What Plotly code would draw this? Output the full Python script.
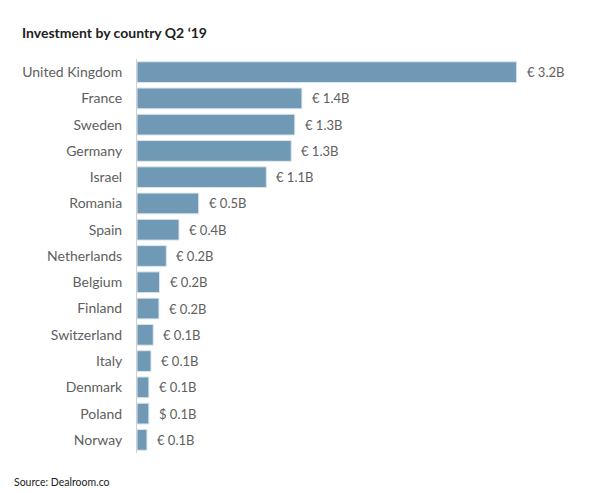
import plotly.graph_objects as go

countries = ["United Kingdom", "France", "Sweden", "Germany", "Israel", "Romania", "Spain",
             "Netherlands", "Belgium", "Finland", "Switzerland", "Italy", "Denmark", "Poland", "Norway"]
values = [3.2, 1.39, 1.33, 1.30, 1.09, 0.52, 0.354, 0.247, 0.19, 0.185, 0.137, 0.118, 0.10, 0.10, 0.084]
labels = ["€ 3.2B", "€ 1.4B", "€ 1.3B", "€ 1.3B", "€ 1.1B", "€ 0.5B", "€ 0.4B", "€ 0.2B",
          "€ 0.2B", "€ 0.2B", "€ 0.1B", "€ 0.1B", "€ 0.1B", "$ 0.1B", "€ 0.1B"]

FONT = "Lato"
TXT = "#606060"
fig = go.Figure()
fig.add_trace(go.Bar(
    x=values, y=countries, orientation="h",
    marker=dict(color="#7099b6", line=dict(color="#dce6ee", width=1)),
    hoverinfo="skip",
))
for c, v, t in zip(countries, values, labels):
    fig.add_annotation(x=v, y=c, text=t, showarrow=False, xanchor="left", xshift=8,
                       font=dict(family=FONT, size=13, color=TXT))

fig.add_annotation(x=(20-137)/439, y=1 + (59-32)/394, xref="paper", yref="paper",
                   text="<b>Investment by country Q2 ‘19</b>",
                   showarrow=False, xanchor="left", yanchor="middle",
                   font=dict(family=FONT, size=14, color="#222222"))
fig.add_annotation(x=(12-137)/439, y=-(482-453)/394, xref="paper", yref="paper",
                   text="Source: Dealroom.co", showarrow=False, xanchor="left", yanchor="middle",
                   font=dict(family=FONT, size=10.5, color="#222222"))
fig.update_layout(
    width=600, height=493,
    margin=dict(l=137, r=24, t=59, b=40),
    paper_bgcolor="white", plot_bgcolor="white",
    bargap=0.21,
    showlegend=False,
    font=dict(family=FONT, size=13, color=TXT),
    xaxis=dict(range=[0, 3.7], visible=False, fixedrange=True),
    yaxis=dict(autorange="reversed", showline=True, linecolor="#d0d0d0", linewidth=1,
               ticks="", ticklabelstandoff=11, showgrid=False, fixedrange=True,
               tickfont=dict(family=FONT, size=14, color=TXT)),
)
fig.write_html("out.html", post_script="document.body.style.margin='0';",
               config={"displayModeBar": False})
